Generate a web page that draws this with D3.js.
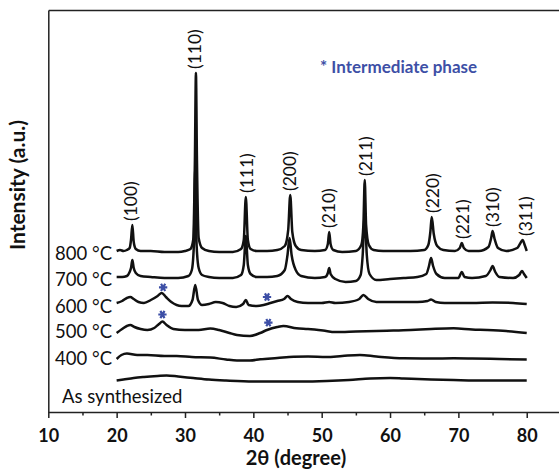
<!DOCTYPE html>
<html>
<head>
<meta charset="utf-8">
<script src="https://cdn.jsdelivr.net/npm/d3@7"></script>
<style>
  html, body { margin: 0; padding: 0; background: #fff; }
  svg { display: block; }
  text { font-family: Lato, "Open Sans", sans-serif; }
</style>
</head>
<body>
<svg id="chart" width="559" height="475"></svg>
<script>
// ---------------- data (2θ, stacked intensity in a.u.) ----------------
const seriesNames = ["800 °C", "700 °C", "600 °C", "500 °C", "400 °C", "As synthesized"];

const s800 = [[20,161],[20.5,162],[21,161],[21.5,162],[21.9,164],[22.1,172],[22.3,187],[22.5,170],[22.8,163],[23.5,161],
  [25,161],[27,160],[29,160],[30,161],[30.8,163],[31.2,172],[31.45,252],[31.6,339],[31.75,252],[32.0,174],[32.5,164],
  [33.5,161],[35,160],[37,160],[38.2,163],[38.6,172],[38.9,215],[39.2,172],[39.6,163],[40.5,161],[42,161],[43.5,162],
  [44.6,166],[45.1,182],[45.4,217],[45.7,180],[46.2,166],[47,162],[49,161],[50.5,162],[50.9,168],[51.1,180],[51.3,168],
  [51.7,162],[53,160],[55,161],[55.8,167],[56.1,187],[56.3,232],[56.5,187],[56.9,167],[57.6,162],[59,161],[61,161],
  [63,161],[65,162],[65.6,167],[65.9,180],[66.1,195],[66.4,178],[66.9,166],[67.8,162],[69.5,161],[70.2,164],[70.5,169],
  [70.8,164],[71.5,161],[73,161],[74.4,165],[74.8,174],[75.0,181],[75.3,173],[75.8,164],[77,161],[78.6,164],[79.0,168],
  [79.4,172],[79.7,167],[80,161]];

const s700 = [[20,135],[20.8,135],[21.5,136],[21.9,140],[22.1,144],[22.3,152],[22.5,144],[22.8,139],[23.5,136],[25,135],
  [27,134],[29,134],[30.5,136],[31.0,142],[31.3,167],[31.5,245],[31.7,167],[32.0,144],[32.5,137],[33.5,135],[35,134],
  [37,134],[38.2,137],[38.6,147],[38.9,176],[39.2,147],[39.6,138],[40.5,135],[42,135],[43.5,136],[44.6,142],[45.0,157],
  [45.3,174],[45.6,157],[46.2,142],[47,136],[49,134],[50.5,135],[50.9,139],[51.1,144],[51.3,138],[52,133],[53.5,130],
  [55,131],[55.7,137],[56.0,157],[56.3,197],[56.6,157],[57.0,138],[58,132],[60,133],[62,134],[64,135],[65.3,138],
  [65.7,146],[66.0,154],[66.3,146],[66.8,138],[68,134],[70,134],[70.5,140],[70.9,135],[72,134],[74,136],[74.7,142],
  [75.0,146],[75.4,140],[76,135],[78,134],[78.9,137],[79.3,141],[79.6,138],[80,134]];

const s600 = [[20,109],[20.8,111],[21.5,114],[22.0,115],[22.5,113],[23.2,110],[24.0,109],[25.0,112],[26.0,116],[26.6,119],
  [27.2,115],[28,110],[29.5,106],[30.5,106],[31.1,112],[31.5,127],[31.9,112],[32.5,107],[33.5,108],[34.5,110],[35.5,109],
  [36.5,106],[37.5,105],[38.5,108],[38.9,112],[39.3,107],[40.5,106],[41.5,107],[42.5,109],[43.5,111],[44.5,113],[45.0,116],
  [45.5,113],[46.5,110],[48,109],[50,109],[51.1,110],[52,109],[54,110],[55.5,113],[56.1,117],[56.8,113],[58,110],[60,110],
  [62,110],[64,110],[65.5,111],[66.0,112.5],[66.7,110],[68,109],[72,109],[75,109.5],[78,109],[80,108]];

const s500 = [[20,79],[20.8,83],[21.5,86],[22.0,87],[22.6,85],[23.5,83],[24.5,82],[25.5,84],[26.2,88],[26.7,90.5],[27.3,87],
  [28.3,83],[30,82],[32,82],[33.7,83.5],[35,82],[36.5,79],[37.6,77],[39.5,76],[41,79],[42,82],[43.5,85],[44.4,86],[46.3,83.7],
  [48,83],[50.2,81.5],[52,80],[55,80.5],[59.5,81.3],[63,82],[66,83],[69.3,83.7],[72,82.5],[74.2,82],[77,81],[80,79]];

const s400 = [[20,53],[20.7,57],[21.5,58.5],[23,57],[24.5,57],[27,56],[28.8,56],[31,55],[33.7,54.5],[36,52.5],[37.6,51.5],
  [39.5,51.5],[41,52.7],[43.5,54],[45.9,55.3],[48,55.5],[50.7,55],[53,56],[55.6,57],[58,55.5],[62,53.7],[66,53.5],[69.3,53.7],
  [72,53.5],[76,53],[80,52.5]];

const sAs = [[20,31.5],[21,32.5],[22.5,34],[24,35],[26,36],[27.3,36.5],[29,35.5],[31.2,34],[33.5,32.5],[36,31.5],[40,30.5],
  [43.4,30.5],[47,30.5],[50.7,31],[54,32],[57.1,33.5],[60,34],[62,33.5],[66,32.5],[69.3,32],[74,31.5],[80,31.5]];

const seriesValues = [s800, s700, s600, s500, s400, sAs];

// Miller indices of the 800 °C pattern and the 2θ where each label sits
const hklLabels = ["(100)","(110)","(111)","(200)","(210)","(211)","(220)","(221)","(310)","(311)"];
const hklTheta  = [22.2, 31.6, 39.1, 45.4, 51.2, 56.5, 66.4, 70.7, 75.2, 80.0];

// intermediate-phase reflections (series index, 2θ)
const starSeries = [2, 2, 3, 3];
const starTheta  = [26.8, 42.0, 26.7, 42.2];

const xTicks = [10, 20, 30, 40, 50, 60, 70, 80];
const xMinorTicks = [15, 25, 35, 45, 55, 65, 75];

// ---------------- drawing ----------------
const svg = d3.select("#chart");
const x = d3.scaleLinear().domain([10, 85]).range([48.3, 560.9]);
const y = d3.scaleLinear().domain([0, 402]).range([412, 10]);
const blue = "#3d4fa6";

// frame
const axisColor = "#222";
const gx = svg.append("g").attr("transform", `translate(0,${y(0)})`)
  .call(d3.axisBottom(x).tickValues(xTicks).tickSize(6).tickSizeOuter(0).tickPadding(11).tickFormat(d3.format("d")));
gx.selectAll("text").attr("font-family", "Lato, sans-serif").attr("font-size", 18).attr("font-weight", "bold").attr("fill", "#111");
const gm = gx.append("g").call(d3.axisBottom(x).tickValues(xMinorTicks).tickSize(3.5).tickFormat(""));
gm.select(".domain").remove();
gm.selectAll("text").remove();
gx.selectAll("path,line").attr("stroke", axisColor).attr("stroke-width", 1.5);

const gl = svg.append("g").attr("transform", `translate(${x(10)},0)`)
  .call(d3.axisLeft(y).tickValues([]).tickSizeOuter(0));
gl.selectAll("path").attr("stroke", axisColor).attr("stroke-width", 1.5);
const gt = svg.append("g").attr("transform", `translate(0,${y(402)})`)
  .call(d3.axisTop(x).tickValues([]).tickSizeOuter(0));
gt.selectAll("path").attr("stroke", axisColor).attr("stroke-width", 1.5);

// traces
const line = d3.line().x(d => x(d[0])).y(d => y(d[1])).curve(d3.curveMonotoneX);
svg.append("g").selectAll("path").data(seriesValues).join("path")
  .attr("d", line).attr("fill", "none").attr("stroke", "#111").attr("stroke-width", 2.5)
  .attr("stroke-linejoin", "round");

// series labels
const labelBase = [260, 286, 312.7, 338.3, 365, 403];
svg.append("g").selectAll("text").data(seriesNames).join("text")
  .attr("x", (d, i) => i === 5 ? 62 : 112)
  .attr("y", (d, i) => labelBase[i])
  .attr("text-anchor", (d, i) => i === 5 ? "start" : "end")
  .attr("font-size", 18.5).attr("fill", "#111")
  .text(d => d);

// hkl labels over the 800 °C peaks
function peakTop(series, t) {
  const near = series.filter(d => Math.abs(d[0] - t) <= 0.7);
  return d3.max(near, d => d[1]);
}
svg.append("g").selectAll("text").data(hklLabels).join("text")
  .attr("transform", (d, i) => `translate(${x(hklTheta[i]) + 5.5},${y(peakTop(s800, hklTheta[i])) - 4}) rotate(-90)`)
  .attr("text-anchor", "start")
  .attr("font-size", 17.5).attr("fill", "#111")
  .text(d => d);

// asterisk markers for the intermediate phase
function valueAt(series, t) {
  const i = d3.bisector(d => d[0]).left(series, t);
  const a = series[Math.max(0, i - 1)], b = series[Math.min(series.length - 1, i)];
  if (a[0] === b[0]) return a[1];
  return a[1] + (b[1] - a[1]) * (t - a[0]) / (b[0] - a[0]);
}
const star = d3.symbol().type(d3.symbolAsterisk).size(48);
svg.append("g").selectAll("path").data(starTheta).join("path")
  .attr("d", star)
  .attr("transform", (d, i) => `translate(${x(d)},${y(valueAt(seriesValues[starSeries[i]], d)) - 7}) rotate(90)`)
  .attr("fill", "none").attr("stroke", blue).attr("stroke-width", 2.2);

// legend note
svg.append("text").attr("x", 320).attr("y", 73)
  .attr("font-size", 17).attr("font-weight", "bold").attr("fill", blue)
  .text("* Intermediate phase");

// axis titles
svg.append("text").attr("x", 296).attr("y", 465).attr("text-anchor", "middle")
  .attr("font-size", 20).attr("font-weight", "bold").attr("fill", "#111")
  .text("2θ (degree)");
svg.append("text").attr("transform", "translate(25,185) rotate(-90)").attr("text-anchor", "middle")
  .attr("font-size", 21).attr("font-weight", "bold").attr("fill", "#111")
  .text("Intensity (a.u.)");
</script>
</body>
</html>
